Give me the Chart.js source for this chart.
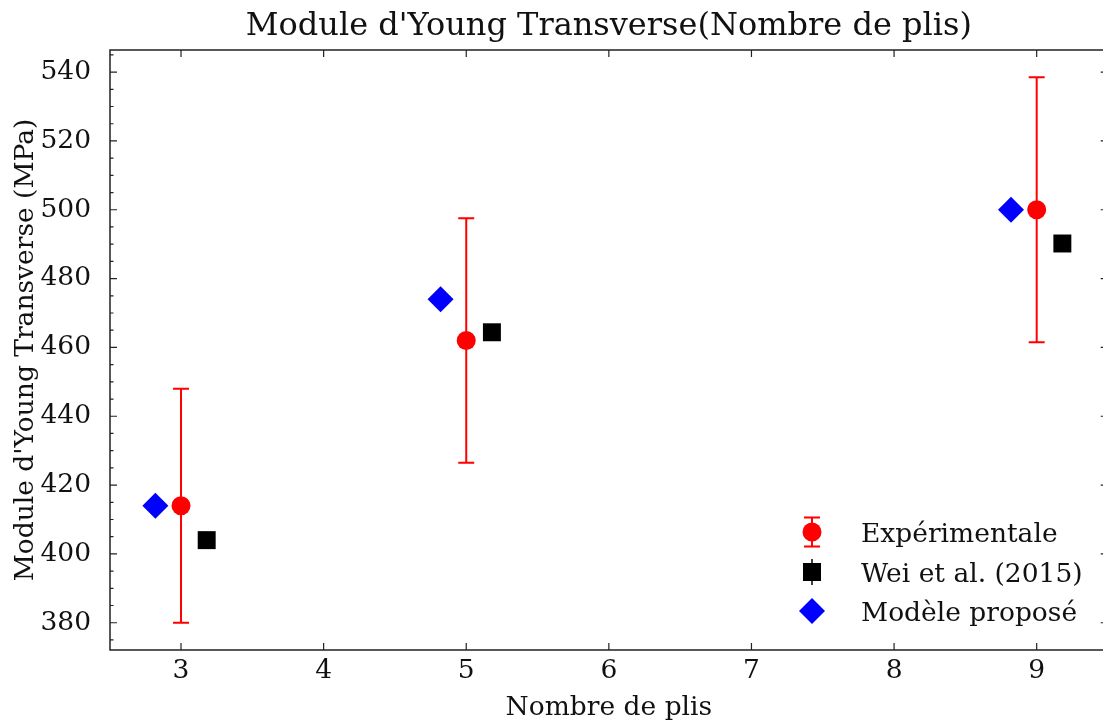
<!DOCTYPE html>
<html>
<head>
<meta charset="utf-8">
<title>Module d'Young Transverse</title>
<script src="https://cdn.jsdelivr.net/npm/chart.js@4.4.0/dist/chart.umd.min.js"></script>
<style>
    html, body { margin: 0; padding: 0; background: #fff; overflow: hidden; }
    canvas { display: block; }
</style>
</head>
<body>
<canvas id="youngChart" width="1103" height="722"></canvas>
<script>
// nombre de plis et mesures
var plis = [3, 5, 9];
var expValues = [414, 462, 500];
var expErr = [34, 35.5, 38.5];

var weiX = [3.18, 5.18, 9.18];
var weiValues = [404, 464.4, 490.2];

var modelX = [2.82, 4.82, 8.82];
var modelValues = [414, 474, 500];

var xTicks = [3, 4, 5, 6, 7, 8, 9];
var yTicks = [380, 400, 420, 440, 460, 480, 500, 520, 540];

var labels = ['Expérimentale', 'Wei et al. (2015)', 'Modèle proposé'];
var colors = ['#ff0000', '#000000', '#0000ff'];

// axis limits; the right limit falls just past the canvas edge
var xLimits = [2.502, 9.498];
var yLimits = [372.075, 546.425];

var FONT = "'DejaVu Serif', 'Liberation Serif', serif";

function toPoints(xs, ys) {
    return xs.map(function (x, i) { return { x: x, y: ys[i] }; });
}

// error bars, frame with inward ticks, legend and titles
var decorPlugin = {
    id: 'decor',
    beforeDatasetsDraw: function (chart) {
        var ctx = chart.ctx, xs = chart.scales.x, ys = chart.scales.y;
        ctx.save();
        ctx.strokeStyle = colors[0];
        ctx.lineWidth = 2;
        plis.forEach(function (p, i) {
            var px = xs.getPixelForValue(p);
            var top = ys.getPixelForValue(expValues[i] + expErr[i]);
            var bot = ys.getPixelForValue(expValues[i] - expErr[i]);
            ctx.beginPath();
            ctx.moveTo(px, top); ctx.lineTo(px, bot);
            ctx.moveTo(px - 8, top); ctx.lineTo(px + 8, top);
            ctx.moveTo(px - 8, bot); ctx.lineTo(px + 8, bot);
            ctx.stroke();
        });
        ctx.restore();
    },
    afterDraw: function (chart) {
        var ctx = chart.ctx, ca = chart.chartArea;
        var xs = chart.scales.x, ys = chart.scales.y;
        var rightX = xs.getPixelForValue(xLimits[1]);
        ctx.save();

        // frame (left, top, bottom; right spine is past the edge)
        ctx.strokeStyle = '#222';
        ctx.lineWidth = 1.5;
        ctx.beginPath();
        ctx.moveTo(rightX, ca.top); ctx.lineTo(ca.left, ca.top);
        ctx.lineTo(ca.left, ca.bottom); ctx.lineTo(rightX, ca.bottom);
        ctx.stroke();

        // ticks pointing inward
        ctx.lineWidth = 1.2;
        ctx.beginPath();
        xTicks.forEach(function (v) {
            var px = xs.getPixelForValue(v);
            ctx.moveTo(px, ca.bottom); ctx.lineTo(px, ca.bottom - 7);
            ctx.moveTo(px, ca.top); ctx.lineTo(px, ca.top + 7);
        });
        for (var v = Math.ceil(ys.min / 5) * 5; v <= ys.max; v += 5) {
            var py = ys.getPixelForValue(v);
            var len = (v % 20 === 0) ? 7 : 3.5;
            ctx.moveTo(ca.left, py); ctx.lineTo(ca.left + len, py);
            ctx.moveTo(rightX, py); ctx.lineTo(rightX - len, py);
        }
        ctx.stroke();

        // legend
        var lx = 812, rows = [532, 572, 611];
        ctx.fillStyle = colors[0];
        ctx.strokeStyle = colors[0];
        ctx.lineWidth = 2;
        ctx.beginPath();
        ctx.moveTo(lx, rows[0] - 14.5); ctx.lineTo(lx, rows[0] + 14.5);
        ctx.moveTo(lx - 8, rows[0] - 14.5); ctx.lineTo(lx + 8, rows[0] - 14.5);
        ctx.moveTo(lx - 8, rows[0] + 14.5); ctx.lineTo(lx + 8, rows[0] + 14.5);
        ctx.stroke();
        ctx.beginPath();
        ctx.arc(lx, rows[0], 9.5, 0, Math.PI * 2);
        ctx.fill();

        ctx.fillStyle = colors[1];
        ctx.strokeStyle = colors[1];
        ctx.lineWidth = 1.5;
        ctx.beginPath();
        ctx.moveTo(lx, rows[1] - 13); ctx.lineTo(lx, rows[1] + 13);
        ctx.stroke();
        ctx.fillRect(lx - 9, rows[1] - 9, 18, 18);

        ctx.fillStyle = colors[2];
        ctx.beginPath();
        ctx.moveTo(lx - 13, rows[2]); ctx.lineTo(lx, rows[2] - 13);
        ctx.lineTo(lx + 13, rows[2]); ctx.lineTo(lx, rows[2] + 13);
        ctx.closePath();
        ctx.fill();

        ctx.fillStyle = '#111';
        ctx.font = '26.5px ' + FONT;
        ctx.textAlign = 'left';
        ctx.textBaseline = 'alphabetic';
        labels.forEach(function (t, i) { ctx.fillText(t, 861, rows[i] + 10); });

        // titles, centred on the full axes box
        var cx = (ca.left + rightX) / 2;
        ctx.textAlign = 'center';
        ctx.font = '32px ' + FONT;
        ctx.fillText("Module d'Young Transverse(Nombre de plis)", cx, 35);
        ctx.font = '26.5px ' + FONT;
        ctx.fillText('Nombre de plis', cx, 715);

        ctx.translate(33, (ca.top + ca.bottom) / 2);
        ctx.rotate(-Math.PI / 2);
        ctx.fillText("Module d'Young Transverse (MPa)", 0, 0);
        ctx.restore();
    }
};

var tickFont = { family: FONT, size: 26.5 };

new Chart(document.getElementById('youngChart'), {
    type: 'scatter',
    data: {
        datasets: [
            {
                label: labels[0],
                data: toPoints(plis, expValues),
                pointStyle: 'circle',
                pointRadius: 9.5,
                pointHoverRadius: 9.5,
                backgroundColor: colors[0],
                borderWidth: 0
            },
            {
                label: labels[1],
                data: toPoints(weiX, weiValues),
                pointStyle: 'rect',
                pointRadius: 12.7,
                pointHoverRadius: 12.7,
                backgroundColor: colors[1],
                borderWidth: 0
            },
            {
                label: labels[2],
                data: toPoints(modelX, modelValues),
                pointStyle: 'rectRot',
                pointRadius: 13,
                pointHoverRadius: 13,
                backgroundColor: colors[2],
                borderWidth: 0
            }
        ]
    },
    options: {
        responsive: false,
        devicePixelRatio: 1,
        animation: false,
        events: [],
        layout: { autoPadding: false, padding: { top: 50, right: 0, left: 0, bottom: 0 } },
        plugins: {
            legend: { display: false },
            tooltip: { enabled: false },
            title: { display: false }
        },
        scales: {
            x: {
                type: 'linear',
                min: xLimits[0],
                max: 9.465,
                afterBuildTicks: function (s) { s.ticks = xTicks.map(function (v) { return { value: v }; }); },
                afterFit: function (s) {
                    s.height = 72;
                    s.paddingLeft = 0;
                    s.paddingRight = 0;
                },
                grid: { display: false },
                border: { display: false },
                ticks: { font: tickFont, color: '#111', padding: -3, maxRotation: 0, autoSkip: false }
            },
            y: {
                type: 'linear',
                min: yLimits[0],
                max: yLimits[1],
                afterBuildTicks: function (s) { s.ticks = yTicks.map(function (v) { return { value: v }; }); },
                afterFit: function (s) {
                    s.width = 110;
                    s.paddingTop = 0;
                    s.paddingBottom = 0;
                },
                grid: { display: false },
                border: { display: false },
                ticks: { font: tickFont, color: '#111', padding: 11, autoSkip: false }
            }
        }
    },
    plugins: [decorPlugin]
});
</script>
</body>
</html>
